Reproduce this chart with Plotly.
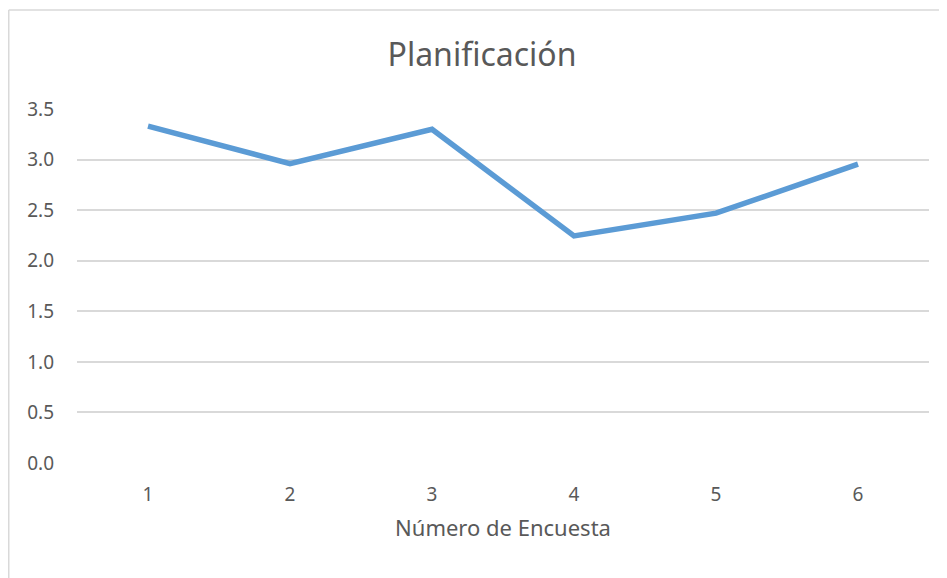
import plotly.graph_objects as go

categories = ["1", "2", "3", "4", "5", "6"]
values = [3.33, 2.96, 3.30, 2.245, 2.47, 2.955]
y_ticks = [0.0, 0.5, 1.0, 1.5, 2.0, 2.5, 3.0, 3.5]
title_text = "Planificación"
x_title = "Número de Encuesta"

W, H = 947, 578
OFF = 8  # page body margin offset
L, R, T, B = 77 - OFF, 18 + OFF, 109 - OFF, 115 + OFF
pw, ph = W - L - R, H - T - B

fig = go.Figure()
fig.add_trace(go.Scatter(
    x=categories, y=values, mode="lines",
    line=dict(color="#5B9BD5", width=5.5, shape="linear"),
    hoverinfo="skip", showlegend=False,
))

font = "Noto Sans"
fig.update_layout(
    width=W, height=H,
    margin=dict(l=L, r=R, t=T, b=B),
    paper_bgcolor="white", plot_bgcolor="white",
    font=dict(family=font, color="#595959"),
    title=dict(text=title_text, x=(482 - OFF) / W, xanchor="center",
               y=1 - (55 - OFF) / H, yanchor="middle",
               font=dict(size=32, color="#595959", family=font)),
    xaxis=dict(type="category", range=[-0.5, 5.5], showgrid=False, zeroline=False, showline=False,
               ticks="", tickfont=dict(size=19, color="#595959"), ticklabelstandoff=18,
               title=dict(text=x_title, font=dict(size=22, color="#595959"), standoff=14)),
    yaxis=dict(range=[0, 3.5], tickvals=y_ticks,
               ticktext=[f"{v:.1f}" for v in y_ticks],
               showgrid=True, gridcolor="#D9D9D9", gridwidth=1.5,
               zeroline=False, showline=False, ticks="",
               tickfont=dict(size=19, color="#595959"), ticklabelstandoff=22),
)

# chart-area border (left and top edges visible, rest cropped)
bx0 = (0.75 - L) / pw
by1 = (H - B - (10 - OFF)) / ph
fig.add_shape(type="line", xref="paper", yref="paper", x0=bx0, x1=bx0, y0=by1, y1=-1,
              line=dict(color="#D9D9D9", width=1.5))
fig.add_shape(type="line", xref="paper", yref="paper", x0=bx0, x1=2, y0=by1, y1=by1,
              line=dict(color="#D9D9D9", width=1.5))

fig.write_html("out.html")
